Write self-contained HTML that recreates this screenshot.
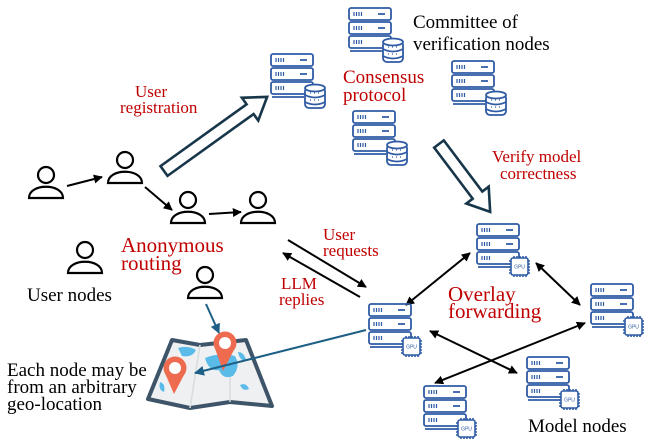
<!DOCTYPE html>
<html><head><meta charset="utf-8"><style>
html,body{margin:0;padding:0;background:#fff;}
svg{display:block;}
svg text.s{font-family:'Liberation Serif','DejaVu Serif','Times New Roman',serif;}
</style></head><body>
<svg width="651" height="441" viewBox="0 0 651 441" xmlns="http://www.w3.org/2000/svg">
<defs>
<marker id="ah" viewBox="0 0 10 10" refX="9" refY="5" markerWidth="4.5" markerHeight="4.5" orient="auto-start-reverse"><path d="M0,0L10,5L0,10z" fill="#000"/></marker>
<marker id="bh" viewBox="0 0 10 10" refX="9" refY="5" markerWidth="5" markerHeight="5" orient="auto"><path d="M0,0L10,5L0,10z" fill="#1d5f86"/></marker>
<g id="person" fill="none" stroke="#000" stroke-width="2.2">
<circle cx="0" cy="-10" r="8"/>
<path d="M-17,13 C-17,-2 17,-2 17,13 Z"/>
</g>
<g id="rack" fill="none" stroke="#2f5ba5" stroke-width="1.8">
<rect x="1" y="1" width="42" height="12" rx="2"/>
<rect x="1" y="15" width="42" height="12" rx="2"/>
<rect x="1" y="29" width="42" height="12" rx="2"/>
<line x1="2" y1="44" x2="34" y2="44"/>
<path d="M6,5v4M8.5,5v4M11,5v4M13.5,5v4M6,19v4M8.5,19v4M11,19v4M13.5,19v4M6,33v4M8.5,33v4M11,33v4M13.5,33v4" stroke-width="1.2"/>
<path d="M30,7h7M30,21h7"/>
</g>
<g id="srvdb">
<use href="#rack"/>
<g fill="#fff" stroke="#2f5ba5" stroke-width="1.8">
<rect x="35" y="34" width="20" height="21" rx="4"/>
<ellipse cx="45" cy="35" rx="10" ry="3.5"/>
<path d="M35,42 q10,5 20,0 M35,49 q10,5 20,0" fill="none"/>
<path d="M40,40h1M44,40h1M48,40h1M40,47h1M44,47h1M48,47h1" stroke-width="1.2"/>
</g>
</g>
<g id="srvgpu">
<use href="#rack"/>
<g stroke="#2f5ba5" stroke-width="1.6" fill="#fff">
<rect x="35" y="35" width="17" height="17" rx="2"/>
<path d="M38,33v2M41,33v2M44,33v2M47,33v2M50,33v2M38,52v2M41,52v2M44,52v2M47,52v2M50,52v2M33,38h2M33,41h2M33,44h2M33,47h2M33,50h2M52,38h2M52,41h2M52,44h2M52,47h2M52,50h2" fill="none"/>
</g>
<text x="43.5" y="45.5" font-family="Liberation Sans,sans-serif" font-size="5" fill="#2f5ba5" text-anchor="middle">GPU</text>
</g>
</defs>

<use href="#person" x="46" y="185"/>
<use href="#person" x="125" y="170"/>
<use href="#person" x="188" y="210"/>
<use href="#person" x="258" y="210"/>
<use href="#person" x="85" y="260"/>
<use href="#person" x="205" y="285"/>

<g stroke="#000" stroke-width="2" marker-end="url(#ah)">
<line x1="67" y1="186" x2="102" y2="177"/>
<line x1="145" y1="187" x2="172" y2="210"/>
<line x1="209" y1="214" x2="241" y2="212"/>
<line x1="288" y1="240" x2="366" y2="287"/>
<line x1="360" y1="297" x2="283" y2="253"/>
</g>
<g stroke="#000" stroke-width="2" marker-end="url(#ah)" marker-start="url(#ah)">
<line x1="406" y1="305" x2="470" y2="253"/>
<line x1="536" y1="263" x2="580" y2="305"/>
<line x1="430" y1="331" x2="517" y2="373"/>
<line x1="435" y1="383" x2="585" y2="323"/>
</g>

<g fill="#fff" stroke="#17364a" stroke-width="2.6" stroke-linejoin="miter">
<polygon transform="translate(164,171) rotate(-35.7)" points="0,-6 106,-6 106,-14 127,0 106,14 106,6 0,6"/>
<polygon transform="translate(439,144) rotate(53)" points="0,-6 64,-6 64,-14 85,0 64,14 64,6 0,6"/>
</g>

<use href="#srvdb" x="270" y="53"/>
<use href="#srvdb" x="348" y="7"/>
<use href="#srvdb" x="451" y="60"/>
<use href="#srvdb" x="352" y="110"/>
<use href="#srvgpu" x="476" y="223"/>
<use href="#srvgpu" x="590" y="283"/>
<use href="#srvgpu" x="368" y="303"/>
<use href="#srvgpu" x="526" y="356"/>
<use href="#srvgpu" x="423" y="385"/>

<path d="M172,340 L200,345 L246,340 L272,406 L230,402 L190,408 L148,399 Z" fill="#eef0f2" stroke="#3e5569" stroke-width="4" stroke-linejoin="round"/>
<path d="M200,345 L190,408 M230,342 L230,402" stroke="#d8dcdf" stroke-width="1.5"/>
<path d="M178,348 q10,-3 18,2 q-4,8 -14,6z M205,358 q15,-6 30,-2 q6,10 -2,20 q-10,4 -14,-6 q-10,2 -14,-12z M240,385 q6,-3 9,4 q-6,3 -9,-4z M160,382 q6,2 4,10 q-6,-2 -4,-10z M238,352 q6,0 8,8 q-6,2 -8,-8z" fill="#5bbbe8"/>
<g fill="#ef6b50">
<circle cx="175" cy="368" r="11.5"/>
<path d="M164.5,372 L174,394 L185.5,372 Z"/>
<circle cx="225" cy="343" r="11.5"/>
<path d="M214.5,347 L223,371 L235.5,347 Z"/>
</g>
<circle cx="175" cy="368" r="6" fill="#fff"/>
<circle cx="225" cy="343" r="6" fill="#fff"/>

<g stroke="#1d5f86" stroke-width="2" marker-end="url(#bh)">
<line x1="206" y1="304" x2="219" y2="333"/>
<line x1="366" y1="330" x2="195" y2="373"/>
</g>

<g font-size="19" fill="#000">
<text class="s" x="413" y="28">Committee of</text>
<text class="s" x="413" y="50">verification nodes</text>
<text class="s" x="27" y="301">User nodes</text>
<text class="s" x="7" y="376">Each node may be</text>
<text class="s" x="7" y="393">from an arbitrary</text>
<text class="s" x="7" y="410">geo-location</text>
<text class="s" x="528" y="432">Model nodes</text>
</g>
<g fill="#c00000">
<text class="s" x="343" y="83" font-size="19">Consensus</text>
<text class="s" x="343" y="101" font-size="19">protocol</text>
<text class="s" x="135" y="97" font-size="17">User</text>
<text class="s" x="120" y="113" font-size="17">registration</text>
<text class="s" x="492" y="162" font-size="17">Verify model</text>
<text class="s" x="500" y="179" font-size="17">correctness</text>
<text class="s" x="121" y="252" font-size="21">Anonymous</text>
<text class="s" x="121" y="270" font-size="21">routing</text>
<text class="s" x="323" y="240" font-size="17">User</text>
<text class="s" x="323" y="256" font-size="17">requests</text>
<text class="s" x="281" y="289" font-size="17">LLM</text>
<text class="s" x="279" y="305" font-size="17">replies</text>
<text class="s" x="448" y="301" font-size="21">Overlay</text>
<text class="s" x="448" y="318" font-size="21">forwarding</text>
</g>
</svg>
</body></html>
